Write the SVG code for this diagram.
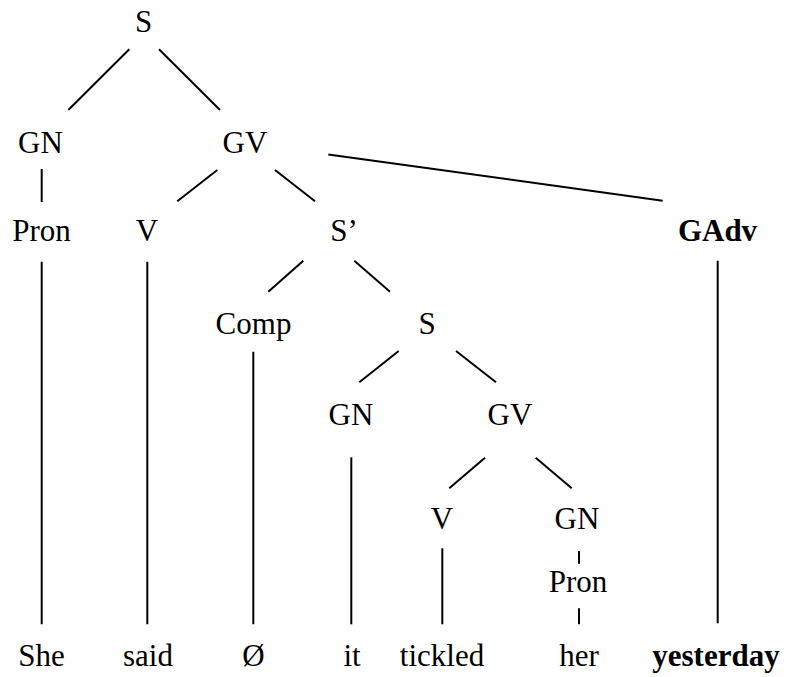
<svg xmlns="http://www.w3.org/2000/svg" width="786" height="677" viewBox="0 0 786 677">
  <style>
    text { font-family: "Liberation Serif", "Times New Roman", serif; font-size: 31px; fill: #000; text-anchor: middle; }
    .b { font-weight: bold; }
    line { stroke: #000; stroke-width: 2; stroke-linecap: butt; }
  </style>
  <rect width="786" height="677" fill="#fff"/>

  <g id="connectors">
    <line x1="129.3" y1="49.3" x2="68.3" y2="110"/>
    <line x1="159" y1="49.3" x2="220" y2="110"/>
    <line x1="41.7" y1="169" x2="41.7" y2="202"/>
    <line x1="217.3" y1="170" x2="177.3" y2="201.3"/>
    <line x1="275" y1="170" x2="315" y2="201.3"/>
    <line x1="328.3" y1="154.5" x2="662.7" y2="200.7"/>
    <line x1="41.7" y1="261.7" x2="41.7" y2="624.3"/>
    <line x1="147.3" y1="261.7" x2="147.3" y2="624.3"/>
    <line x1="303.3" y1="260.7" x2="268.3" y2="291.7"/>
    <line x1="354.3" y1="260.7" x2="390" y2="291.7"/>
    <line x1="717.7" y1="260.7" x2="717.7" y2="623.3"/>
    <line x1="253.3" y1="351.7" x2="253.3" y2="624.3"/>
    <line x1="398.7" y1="351" x2="359.3" y2="382.3"/>
    <line x1="456" y1="351" x2="496" y2="382.3"/>
    <line x1="351.3" y1="457.3" x2="351.3" y2="624.3"/>
    <line x1="485" y1="457.7" x2="449.3" y2="488.3"/>
    <line x1="535.7" y1="457.7" x2="571.7" y2="488.3"/>
    <line x1="442.3" y1="548.3" x2="442.3" y2="624.3"/>
    <line x1="579" y1="551" x2="579" y2="563.7"/>
    <line x1="579" y1="608.3" x2="579" y2="624.3"/>
  </g>

  <g id="n-s"><text x="143.5" y="32">S</text></g>
  <g id="n-gn"><text x="40.5" y="153">GN</text></g>
  <g id="n-gv"><text x="245" y="153">GV</text></g>
  <g id="n-pron"><text x="41.5" y="241">Pron</text></g>
  <g id="n-v"><text x="147" y="241">V</text></g>
  <g id="n-sbar"><text x="344" y="241">S’</text></g>
  <g id="n-gadv"><text class="b" x="717.5" y="241">GAdv</text></g>
  <g id="n-comp"><text x="253.5" y="334">Comp</text></g>
  <g id="n-s2"><text x="427" y="334">S</text></g>
  <g id="n-gn2"><text x="351" y="425">GN</text></g>
  <g id="n-gv2"><text x="510" y="425">GV</text></g>
  <g id="n-v2"><text x="442" y="529">V</text></g>
  <g id="n-gn3"><text x="577" y="529">GN</text></g>
  <g id="n-pron2"><text x="578" y="592">Pron</text></g>

  <g id="w-she"><text x="41.5" y="666">She</text></g>
  <g id="w-said"><text x="148" y="666">said</text></g>
  <g id="w-null"><text x="253.5" y="666">Ø</text></g>
  <g id="w-it"><text x="352" y="666">it</text></g>
  <g id="w-tickled"><text x="442" y="666">tickled</text></g>
  <g id="w-her"><text x="579" y="666">her</text></g>
  <g id="w-yesterday"><text class="b" x="716" y="666">yesterday</text></g>
</svg>
